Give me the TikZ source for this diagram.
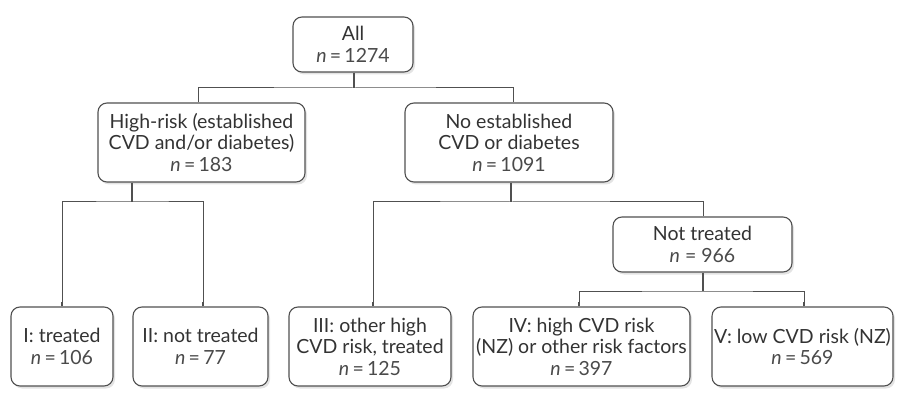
\documentclass[tikz,border=0pt]{standalone}
\usepackage{fontspec}
\setmainfont{Lato}
\usetikzlibrary{shadows}
\definecolor{linec}{HTML}{505050}
\definecolor{txtc}{HTML}{333333}
\definecolor{nc}{HTML}{4A4A4A}
\newcommand{\nn}[1]{{\color{nc}\textit{n}\,=\,#1}}
\tikzset{
  box/.style 2 args={draw=linec, line width=1.1pt, rounded corners=9pt, fill=white,
    align=center, inner sep=0pt, minimum width=#1, minimum height=#2,
    text=txtc, font=\fontsize{19.5}{21.5}\selectfont,
    drop shadow={opacity=0.22, shadow xshift=2pt, shadow yshift=-2.5pt}},
  conn/.style={draw=linec, line width=1pt},
  stem/.style={draw=linec, line width=2pt},
}
\begin{document}
\begin{tikzpicture}[x=1pt,y=-1pt]
\useasboundingbox (0,0) rectangle (912,403);
\node[box={120pt}{55pt}] (all) at (353,44.5) {All\\\nn{1274}};
\node[box={207pt}{79pt}] (hr) at (201.5,142.5) {High-risk (established\\CVD and/or diabetes)\\\nn{183}};
\node[box={208pt}{79pt}] (no) at (509,142.5) {No established\\CVD or diabetes\\\nn{1091}};
\node[box={179pt}{55pt}] (nt) at (702.5,244.5) {Not treated\\{\color{nc}\textit{n} = 966}};
\node[box={102pt}{79pt}] (g1) at (62,346.5) {I: treated\\\nn{106}};
\node[box={135pt}{79pt}] (g2) at (200.5,346.5) {II: not treated\\\nn{77}};
\node[box={162pt}{79pt}] (g3) at (370,346.5) {III: other high\\CVD risk, treated\\\nn{125}};
\node[box={217pt}{79pt}] (g4) at (581.5,346.5) {IV: high CVD risk\\(NZ) or other risk factors\\\nn{397}};
\node[box={181pt}{79pt}] (g5) at (802.5,346.5) {V: low CVD risk (NZ)\\\nn{569}};
% junction coordinates
\coordinate (j0) at (354,88);
\coordinate (j1) at (132,202);
\coordinate (j2) at (511,202);
\coordinate (j3) at (703,291);
% all -> hr, no
\draw[stem] (all.south -| j0) -- (j0);
\draw[conn] (hr.north -| 198,0) |- (j0) -| (no.north -| 513,0);
% hr -> g1, g2
\draw[stem] (hr.south -| j1) -- (j1);
\draw[conn] (g1.north -| 62,0) |- (j1) -| (g2.north -| 203,0);
\draw[stem] (g1.north -| 62,0) -- ++(0,-4);
\draw[stem] (g2.north -| 203,0) -- ++(0,-4);
% no -> g3, nt
\draw[stem] (no.south -| j2) -- (j2);
\draw[conn] (g3.north -| 373,0) |- (j2) -| (nt.north -| 703,0);
\draw[stem] (g3.north -| 373,0) -- ++(0,-4);
% nt -> g4, g5
\draw[stem] (nt.south -| j3) -- (j3);
\draw[conn] (g4.north -| 579,0) |- (j3) -| (g5.north -| 804,0);
\draw[stem] (g4.north -| 579,0) -- ++(0,-4);
\draw[stem] (g5.north -| 804,0) -- ++(0,-4);
\end{tikzpicture}
\end{document}
